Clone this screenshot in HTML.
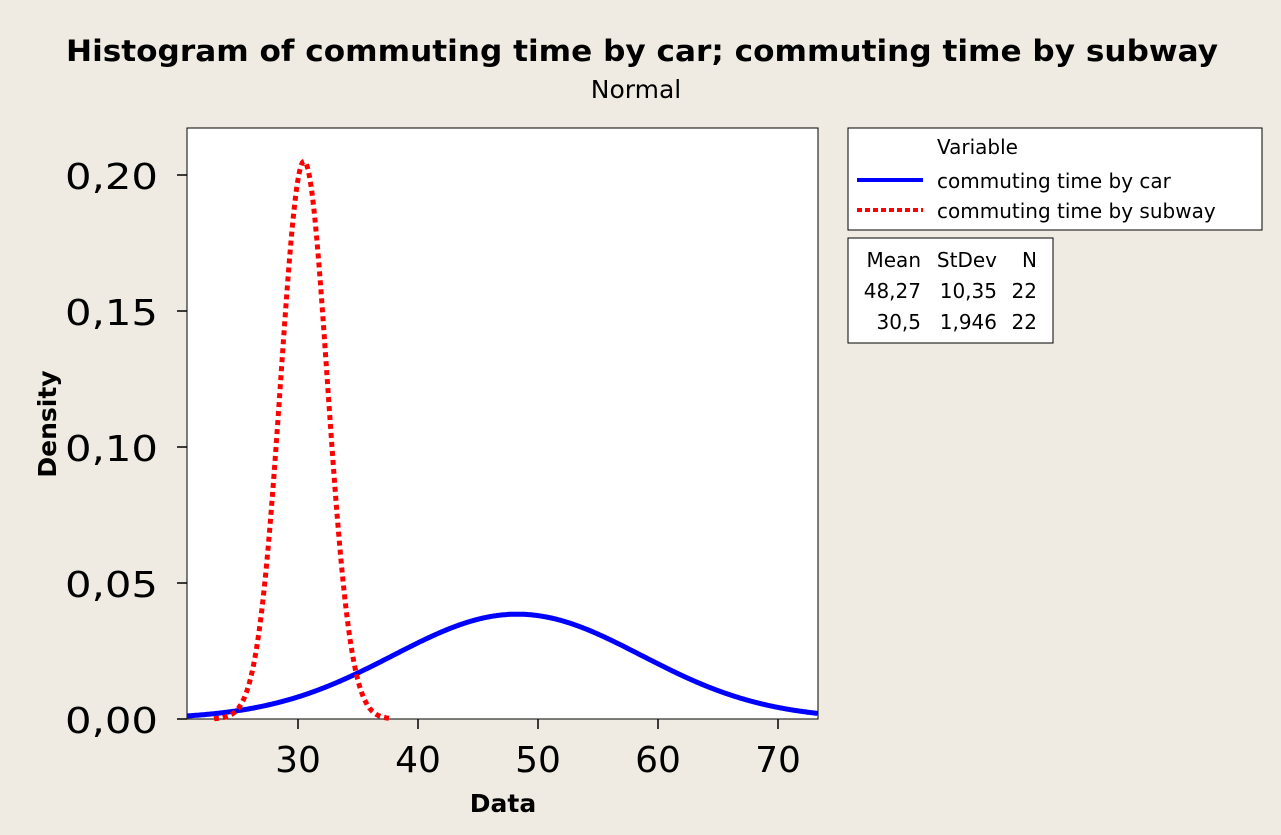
<!DOCTYPE html>
<html><head><meta charset="utf-8"><style>
body{margin:0;background:#efebe2;}
svg{display:block;font-family:"DejaVu Sans","Liberation Sans",sans-serif;}
</style></head><body>
<svg id="s" width="1281" height="835" viewBox="0 0 1281 835">
<rect width="1281" height="835" fill="#efebe2"/>
<text x="66" y="61" font-size="29" font-weight="bold" textLength="1152" lengthAdjust="spacingAndGlyphs">Histogram of commuting time by car; commuting time by subway</text>
<text x="636" y="98" text-anchor="middle" font-size="25">Normal</text>
<rect x="187" y="128" width="631" height="591" fill="#fff" stroke="#000" stroke-width="1"/>
<g id="ticks" stroke="#000" stroke-width="1.5"></g>
<g font-size="36" id="lbl"></g>
<text x="503" y="812" text-anchor="middle" font-size="25" font-weight="bold">Data</text>
<text transform="translate(56,424) rotate(-90)" text-anchor="middle" font-size="25" font-weight="bold">Density</text>
<path id="car" fill="none" stroke="#0000ff" stroke-width="5"/>
<path id="sub" fill="none" stroke="#ff0000" stroke-width="5" stroke-dasharray="5,4"/>
<rect x="848" y="128" width="414" height="102" fill="#fff" stroke="#000"/>
<text x="937" y="154" font-size="20">Variable</text>
<line x1="857" y1="180" x2="923" y2="180" stroke="#0000ff" stroke-width="4"/>
<text x="937" y="188" font-size="20">commuting time by car</text>
<line x1="857" y1="210" x2="923" y2="210" stroke="#ff0000" stroke-width="4" stroke-dasharray="5,3"/>
<text x="937" y="218" font-size="20">commuting time by subway</text>
<rect x="848" y="238" width="205" height="105" fill="#fff" stroke="#000"/>
<g font-size="20" text-anchor="end">
<text x="921" y="267">Mean</text><text x="997" y="267">StDev</text><text x="1037" y="267">N</text>
<text x="921" y="298">48,27</text><text x="997" y="298">10,35</text><text x="1037" y="298">22</text>
<text x="921" y="329">30,5</text><text x="997" y="329">1,946</text><text x="1037" y="329">22</text>
</g>
</svg>
<script>
var X=v=>298+(v-30)*12, Y=d=>719-d*2720;
var t=document.getElementById('ticks'),l=document.getElementById('lbl'),ns='http://www.w3.org/2000/svg';
function el(p,n,a,txt){var e=document.createElementNS(ns,n);for(var k in a)e.setAttribute(k,a[k]);if(txt)e.textContent=txt;p.appendChild(e);}
[30,40,50,60,70].forEach(v=>{el(t,'line',{x1:X(v),x2:X(v),y1:719,y2:729});el(l,'text',{x:X(v),y:772,'text-anchor':'middle'},String(v));});
[0,0.05,0.1,0.15,0.2].forEach(v=>{el(t,'line',{x1:177,x2:187,y1:Y(v),y2:Y(v)});el(l,'text',{x:65,y:Y(v)+14,textLength:93,lengthAdjust:'spacingAndGlyphs'},v.toFixed(2).replace('.',','));});
function pdf(x,m,s){return Math.exp(-0.5*((x-m)/s)**2)/(s*Math.sqrt(2*Math.PI));}
function path(m,s,a,b){var d='';for(var x=a;x<=b+1e-9;x+=0.05)d+=(d?'L':'M')+X(x).toFixed(1)+','+Y(pdf(x,m,s)).toFixed(1);return d;}
document.getElementById('car').setAttribute('d',path(48.27,10.35,20.75,73.33));
document.getElementById('sub').setAttribute('d',path(30.5,1.946,23.0,37.9));
</script>
</body></html>
